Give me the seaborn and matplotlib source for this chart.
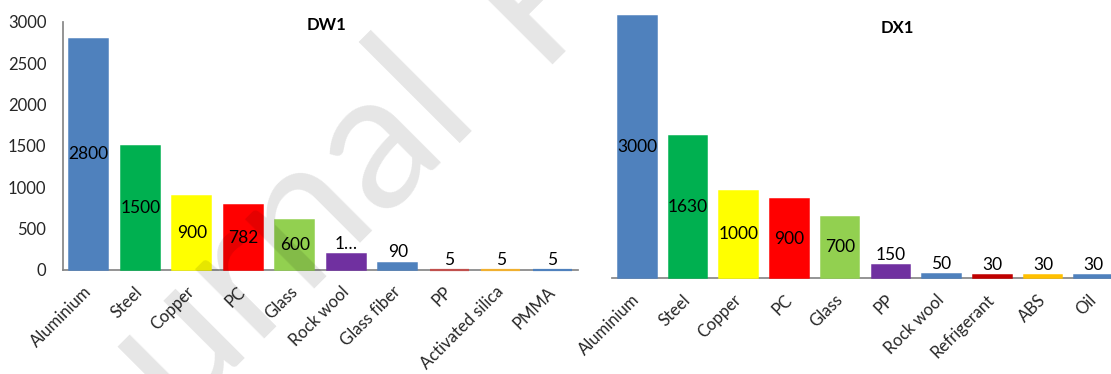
import matplotlib
matplotlib.use("Agg")
import matplotlib.pyplot as plt
import seaborn as sns

# --- data -----------------------------------------------------------------
dw1_materials = ["Aluminium", "Steel", "Copper", "PC", "Glass", "Rock wool",
                 "Glass fiber", "PP", "Activated silica", "PMMA"]
dw1_mass = [2800, 1500, 900, 782, 600, 190, 90, 5, 5, 5]
dw1_colors = ["#4F81BD", "#00B050", "#FFFF00", "#FF0000", "#92D050", "#7030A0",
              "#4F81BD", "#C0504D", "#F0B030", "#4F81BD"]
dw1_label_override = {"Rock wool": "1…"}

dx1_materials = ["Aluminium", "Steel", "Copper", "PC", "Glass", "PP",
                 "Rock wool", "Refrigerant", "ABS", "Oil"]
dx1_mass = [3000, 1630, 1000, 900, 700, 150, 50, 30, 30, 30]
dx1_colors = ["#4F81BD", "#00B050", "#FFFF00", "#FF0000", "#92D050", "#7030A0",
              "#4F81BD", "#C00000", "#FFC000", "#4F81BD"]

y_ticks = [0, 500, 1000, 1500, 2000, 2500, 3000]

# --- style ----------------------------------------------------------------
sns.set_theme(style="white")
plt.rcParams["font.family"] = ["Lato", "DejaVu Sans"]

W, H = 1111, 374
fig = plt.figure(figsize=(W / 100, H / 100), dpi=100)
fig.patch.set_facecolor("white")


def axes_px(x0, y_top, x1, y_bottom):
    return fig.add_axes([x0 / W, 1 - y_bottom / H, (x1 - x0) / W, (y_bottom - y_top) / H])


SPINE = "#868686"
TEXT = "#262626"


def draw_panel(ax, cats, vals, colors, overrides, show_y):
    sns.barplot(x=cats, y=vals, hue=cats, palette=colors, legend=False,
                saturation=1, width=0.76, ax=ax)
    for p, c, v in zip(ax.patches, colors, vals):
        p.set_edgecolor(c)
        # very short bars get a thicker outline so they stay visible
        p.set_linewidth(1.1 if v > 20 else 1.6)
        p.set_zorder(3)
        p.set_clip_on(False)
    ax.set_ylim(0, 3000)
    ax.set_xlim(-0.5, len(cats) - 0.5)
    ax.set_xlabel("")
    ax.set_ylabel("")
    for s in ["top", "right"]:
        ax.spines[s].set_visible(False)
    for s in ["bottom", "left"]:
        ax.spines[s].set_color(SPINE)
        ax.spines[s].set_zorder(1)
    ax.spines["left"].set_visible(show_y)
    if show_y:
        ax.set_yticks(y_ticks)
        ax.set_yticklabels([str(t) for t in y_ticks], fontsize=12, color=TEXT)
    else:
        ax.set_yticks([])
    ax.tick_params(axis="both", length=0)
    ax.tick_params(axis="y", pad=12)
    ax.tick_params(axis="x", pad=14)
    ax.set_xticks(range(len(cats)))
    ax.set_xticklabels(cats, rotation=45, ha="right", va="center",
                       rotation_mode="anchor", fontsize=12, color=TEXT)

    # value labels: centred in tall bars, just above short ones
    for i, (p, v) in enumerate(zip(ax.patches, vals)):
        txt = overrides.get(cats[i], f"{v:g}")
        x = p.get_x() + p.get_width() / 2
        if v >= 500:
            ax.text(x, v / 2, txt, ha="center", va="center", fontsize=12.5,
                    color="black", zorder=4)
        else:
            ax.annotate(txt, (x, v), xytext=(0, 1.5), textcoords="offset points",
                        ha="center", va="bottom", fontsize=12.5, color="black",
                        zorder=4)
    return ax


ax1 = axes_px(63, 22, 578, 270)
draw_panel(ax1, dw1_materials, dw1_mass, dw1_colors, dw1_label_override, True)
fig.text(327 / W, 1 - 25 / H, "DW1", ha="center", va="center",
         fontsize=12, fontweight="bold", color="black")

ax2 = axes_px(612, 16, 1119, 278)
draw_panel(ax2, dx1_materials, dx1_mass, dx1_colors, {}, False)
fig.text(897 / W, 1 - 28 / H, "DX1", ha="center", va="center",
         fontsize=12, fontweight="bold", color="black")

# diagonal watermark
fig.text(482 / W, 1 - 118 / H, "Journal", rotation=45, rotation_mode="anchor",
         ha="right", va="baseline", fontsize=140, color="black", alpha=0.1)
fig.text(535 / W, 1 - 65 / H, "Pre-proof", rotation=45, rotation_mode="anchor",
         ha="left", va="baseline", fontsize=140, color="black", alpha=0.1)

fig.savefig("out.png", dpi=100, facecolor="white")
